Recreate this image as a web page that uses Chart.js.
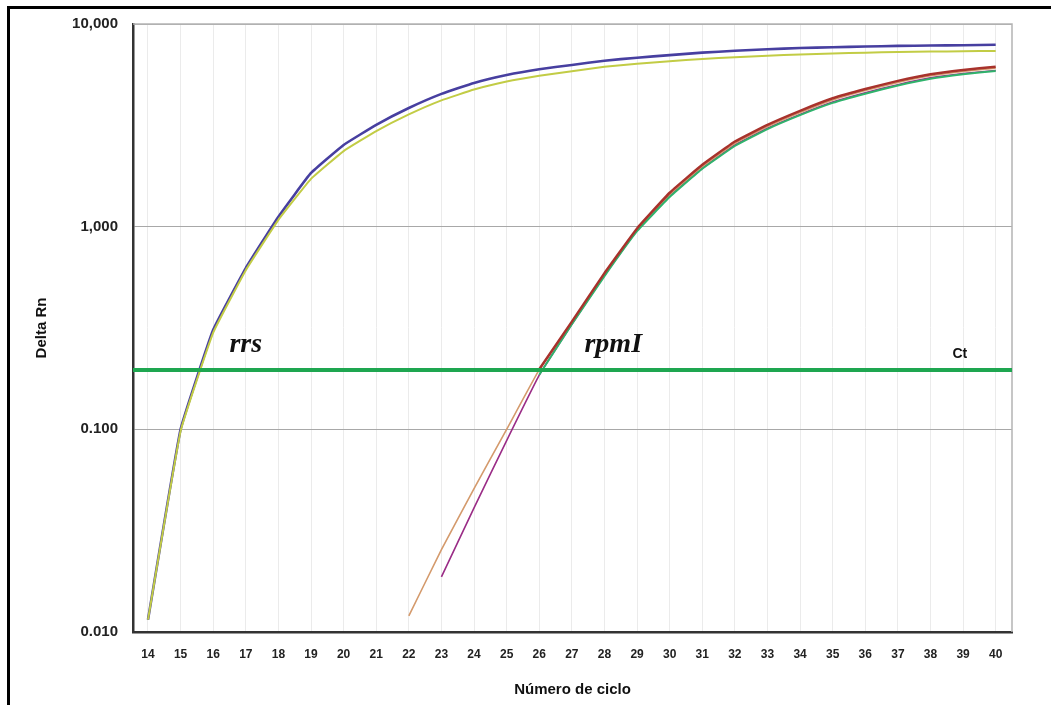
<!DOCTYPE html>
<html>
<head>
<meta charset="utf-8">
<script src="https://cdn.jsdelivr.net/npm/chart.js@4/dist/chart.umd.min.js"></script>
<style>
  html, body { margin: 0; padding: 0; background: #fff; }
  #wrap { position: relative; width: 1051px; height: 705px; overflow: hidden; }
  #frame { position: absolute; left: 7px; top: 6px; width: 1100px; height: 800px; border-left: 3px solid #000; border-top: 3px solid #000; pointer-events: none; }
</style>
</head>
<body>
<div id="wrap">
  <canvas id="qpcr" width="1051" height="705"></canvas>
  <div id="frame"></div>
</div>
<script>
// ciclos (eje x)
const cycles = [14, 15, 16, 17, 18, 19, 20, 21, 22, 23, 24, 25, 26, 27, 28, 29, 30, 31, 32, 33, 34, 35, 36, 37, 38, 39, 40];

// rrs
const rrsBlue = [0.0115, 0.1, 0.31, 0.625, 1.12, 1.84, 2.53, 3.18, 3.85, 4.52, 5.12, 5.6, 5.98, 6.28, 6.59, 6.82, 7.02, 7.22, 7.38, 7.5, 7.61, 7.68, 7.74, 7.8, 7.83, 7.86, 7.9];
const rrsYellow = [0.0115, 0.098, 0.3, 0.61, 1.08, 1.72, 2.36, 2.96, 3.58, 4.2, 4.75, 5.2, 5.55, 5.85, 6.15, 6.37, 6.55, 6.72, 6.86, 6.98, 7.08, 7.15, 7.22, 7.27, 7.31, 7.34, 7.36];

// rpmI
const rpmRed = [null, null, null, null, null, null, null, null, null, null, null, null, 0.198, 0.34, 0.59, 0.98, 1.47, 2.02, 2.63, 3.18, 3.73, 4.3, 4.78, 5.24, 5.65, 5.93, 6.16];
const rpmTan = [null, null, null, null, null, null, null, null, 0.012, 0.0255, 0.051, 0.1, 0.197, 0.338, 0.585, 0.97, 1.44, 1.98, 2.58, 3.12, 3.66, 4.22, 4.7, 5.15, 5.55, 5.83, 6.06];
const rpmGreen = [null, null, null, null, null, null, null, null, null, null, null, null, 0.186, 0.33, 0.57, 0.95, 1.4, 1.93, 2.5, 3.03, 3.55, 4.08, 4.53, 4.97, 5.37, 5.65, 5.87];
const rpmPurple = [null, null, null, null, null, null, null, null, null, 0.0187, 0.041, 0.088, 0.185, 0.33, 0.575, 0.96, 1.42, 1.94, 2.53, 3.06, 3.58, 4.12, 4.58, 5.02, 5.42, 5.7, 5.9];

// umbral Ct
const ctThreshold = 0.196;

// eje y
const yTicks = [0.01, 0.1, 1, 10];
const yTickLabels = ['0.010', '0.100', '1,000', '10,000'];

const xMin = 13.54;
const xMax = 40.5;

// etiquetas de texto sobre el grafico
const notes = [
  { text: 'rrs', x: 17.0, y: 0.241, font: 'italic bold 28px "Liberation Serif", serif' },
  { text: 'rpmI', x: 28.27, y: 0.241, font: 'italic bold 28px "Liberation Serif", serif' },
  { text: 'Ct', x: 38.9, y: 0.226, font: 'bold 14px "Liberation Sans", Arial, sans-serif' },
];

const toPoints = (values) =>
  cycles.map((c, i) => ({ x: c, y: values[i] })).filter((p) => p.y !== null);

const line = (label, values, color, width) => ({
  label: label,
  data: toPoints(values),
  borderColor: color,
  backgroundColor: color,
  borderWidth: width,
  pointRadius: 0,
  tension: 0.1,
  fill: false,
});

const frameAndNotes = {
  id: 'frameAndNotes',
  beforeDatasetsDraw(chart) {
    const { ctx, chartArea } = chart;
    ctx.save();
    ctx.strokeStyle = '#b4b4b4';
    ctx.lineWidth = 1.5;
    ctx.beginPath();
    ctx.moveTo(chartArea.left, chartArea.top);
    ctx.lineTo(chartArea.right, chartArea.top);
    ctx.lineTo(chartArea.right, chartArea.bottom);
    ctx.stroke();
    ctx.restore();
  },
  afterDatasetsDraw(chart) {
    const { ctx, scales } = chart;
    ctx.save();
    ctx.fillStyle = '#111';
    ctx.textAlign = 'center';
    ctx.textBaseline = 'alphabetic';
    notes.forEach((n) => {
      ctx.font = n.font;
      ctx.fillText(n.text, scales.x.getPixelForValue(n.x), scales.y.getPixelForValue(n.y));
    });
    ctx.restore();
  },
};

new Chart(document.getElementById('qpcr'), {
  type: 'line',
  data: {
    datasets: [
      {
        label: 'Ct',
        data: [{ x: xMin, y: ctThreshold }, { x: xMax, y: ctThreshold }],
        borderColor: '#1ea650',
        borderWidth: 4,
        pointRadius: 0,
        tension: 0,
      },
      line('rpmI 1', rpmRed, '#a8322c', 2.5),
      line('rpmI 2', rpmGreen, '#2fb36c', 2),
      line('rpmI 3', rpmTan, '#d49a6c', 1.6),
      line('rpmI 4', rpmPurple, '#9a2c86', 1.6),
      line('rrs 2', rrsYellow, '#c2cc45', 2),
      line('rrs 1', rrsBlue, '#473fa0', 2.6),
    ],
  },
  options: {
    responsive: false,
    animation: false,
    events: [],
    layout: { padding: { left: 0, top: 24, right: 39, bottom: 0 } },
    plugins: {
      legend: { display: false },
      tooltip: { enabled: false },
    },
    scales: {
      x: {
        type: 'linear',
        min: xMin,
        max: xMax,
        afterFit: (scale) => { scale.height = 73; },
        afterBuildTicks: (scale) => { scale.ticks = cycles.map((c) => ({ value: c })); },
        grid: { color: '#ebebeb', lineWidth: 1, drawTicks: false },
        border: { color: '#333', width: 2.5 },
        ticks: {
          padding: 15,
          color: '#222',
          font: { family: '"Liberation Sans", Arial, sans-serif', size: 12, weight: 'bold' },
          maxRotation: 0,
          autoSkip: false,
          callback: (v) => String(v),
        },
        title: {
          display: true,
          text: 'Número de ciclo',
          color: '#111',
          padding: { top: 0, bottom: 6 },
          font: { family: '"Liberation Sans", Arial, sans-serif', size: 15, weight: 'bold' },
        },
      },
      y: {
        type: 'logarithmic',
        min: 0.01,
        max: 10,
        afterFit: (scale) => { scale.width = 133; },
        afterBuildTicks: (scale) => { scale.ticks = yTicks.map((v) => ({ value: v })); },
        grid: { color: '#a8a8a8', lineWidth: 1, drawTicks: false },
        border: { color: '#333', width: 2.5 },
        ticks: {
          padding: 15,
          color: '#222',
          font: { family: '"Liberation Sans", Arial, sans-serif', size: 15, weight: 'bold' },
          callback: (v) => {
            const i = yTicks.findIndex((t) => Math.abs(t - v) < t * 1e-6);
            return i >= 0 ? yTickLabels[i] : '';
          },
        },
        title: {
          display: true,
          text: 'Delta Rn',
          color: '#111',
          padding: { top: 33, bottom: 0 },
          font: { family: '"Liberation Sans", Arial, sans-serif', size: 15, weight: 'bold' },
        },
      },
    },
  },
  plugins: [frameAndNotes],
});
</script>
</body>
</html>
